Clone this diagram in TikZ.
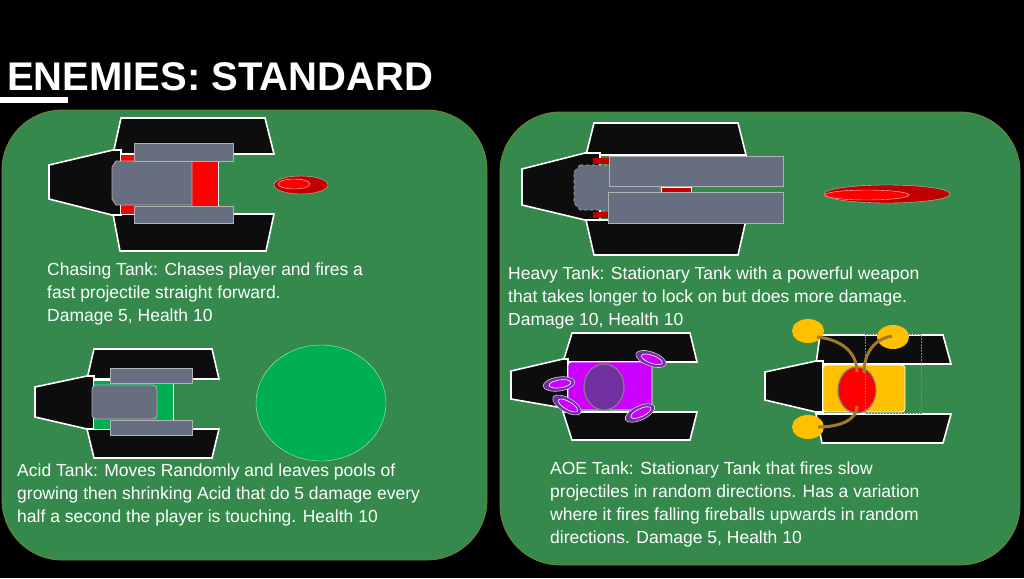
\documentclass[tikz,border=0pt]{standalone}
\usepackage{fontspec}
\setmainfont{Liberation Sans}
\usetikzlibrary{positioning}
\definecolor{panelgreen}{RGB}{53,137,76}
\definecolor{panelrim}{RGB}{120,130,50}
\definecolor{hullgrey}{RGB}{102,110,128}
\definecolor{acidgreen}{RGB}{0,176,80}
\definecolor{darkred}{RGB}{192,0,0}
\definecolor{aoepurple}{RGB}{204,0,255}
\definecolor{deeppurple}{RGB}{112,48,160}
\definecolor{fireyellow}{RGB}{255,192,0}
\definecolor{fusebrown}{RGB}{160,120,50}
\tikzset{
  panel/.style={fill=panelgreen,draw=panelrim,line width=0.8pt,rounded corners=60pt},
  track/.style={fill=black!95,draw=white,line width=1.6pt},
  hull/.style={fill=hullgrey,draw=gray!60,line width=0.8pt},
  desc/.style={anchor=north west,inner sep=0pt,align=left,text=white,
    font=\fontsize{17.5}{23}\selectfont},
  disc/.style={fill=deeppurple,draw=gray!40,line width=0.6pt},
  discin/.style={fill=aoepurple,draw=white,line width=0.6pt},
  fireball/.style={fill=fireyellow},
  fuse/.style={draw=fusebrown,line width=3pt}
}
\begin{document}
\begin{tikzpicture}[x=1pt,y=-1pt]
\fill[black] (0,0) rectangle (1024,578);
\useasboundingbox (0,0) rectangle (1024,578);
% title
\node[anchor=base west,inner sep=0pt,text=white,font=\fontsize{40}{40}\selectfont\bfseries] (title) at (7,90) {ENEMIES: STANDARD};
\fill[white] (0,97) rectangle (68,103);
% panels
\draw[panel] (2,110) rectangle (487,560);
\draw[panel] (500,112) rectangle (1020,565);

% chasing tank
\draw[track] (121,118) -- (265,118) -- (274,154) -- (113,154) -- cycle;
\draw[track] (113,214) -- (274,214) -- (266,251) -- (120,251) -- cycle;
\draw[track] (49,165) -- (113,150) -- (121,150) -- (121,215) -- (112,215) -- (49,199) -- cycle;
\fill[red] (121,154) rectangle (218,214);
\draw[white,line width=0.8pt] (121,154) -- (218,154) -- (218,214) -- (121,214);
\draw[hull] (116,161) -- (192,161) -- (192,205) -- (116,205) -- (112,199) -- (112,167) -- cycle;
\draw[hull] (134,143) rectangle (233,161);
\draw[hull] (134,206) rectangle (233,223);
\draw[fill=darkred,draw=gray!50] (301,185) ellipse [x radius=27,y radius=9];
\draw[fill=red,draw=white!80!red] (294,184) ellipse [x radius=16,y radius=5];
\node[desc] (chasing) at (47,263) {Chasing Tank: Chases player and fires a\\fast projectile straight forward.\\Damage 5, Health 10};

% heavy tank
\draw[track] (594,123) -- (738,123) -- (746,155) -- (586,155) -- cycle;
\draw[track] (586,220) -- (746,220) -- (738,255) -- (594,255) -- cycle;
\draw[track] (522,169) -- (585,153) -- (600,153) -- (600,220) -- (585,220) -- (522,205) -- cycle;
\fill[darkred] (593,158) rectangle (609,164);
\fill[darkred] (593,212) rectangle (609,218);
\draw[hull,dashed,draw=gray!70] (580,165) -- (660,165) -- (660,210) -- (580,210) -- (574,203) -- (574,172) -- cycle;
\draw[fill=darkred,draw=white] (661,187) rectangle (691,192);
\draw[hull] (609,156) rectangle (783,186);
\draw[hull] (608,192) rectangle (783,223);
\draw[fill=darkred,draw=gray!50] (887,194) ellipse [x radius=63,y radius=9];
\draw[fill=red,draw=white!80!red] (867,195) ellipse [x radius=42,y radius=5];
\node[desc] (heavy) at (508,267) {Heavy Tank: Stationary Tank with a powerful weapon\\that takes longer to lock on but does more damage.\\Damage 10, Health 10};

% acid tank
\draw[track] (94,349) -- (212,349) -- (219,379) -- (87,379) -- cycle;
\draw[track] (87,429) -- (219,429) -- (212,458) -- (94,458) -- cycle;
\draw[track] (35,387) -- (87,376) -- (94,376) -- (94,429) -- (87,429) -- (35,417) -- cycle;
\fill[acidgreen] (94,380) rectangle (173,429);
\draw[white,line width=0.8pt] (94,380) -- (173,380) -- (173,429) -- (94,429);
\draw[hull,rounded corners=4pt] (92,385) rectangle (157,419);
\draw[hull] (110,368) rectangle (192,383);
\draw[hull] (110,420) rectangle (192,435);
\draw[fill=acidgreen,draw=white!70!acidgreen] (321,403) ellipse [x radius=65,y radius=58];
\node[desc] (acid) at (17,464) {Acid Tank: Moves Randomly and leaves pools of\\growing then shrinking Acid that do 5 damage every\\half a second the player is touching. Health 10};

% aoe tank
\draw[track] (572,333) -- (690,333) -- (697,362) -- (563,362) -- cycle;
\draw[track] (563,412) -- (697,412) -- (690,440) -- (572,440) -- cycle;
\draw[track] (511,371) -- (563,359) -- (568,359) -- (568,408) -- (563,408) -- (511,399) -- cycle;
\draw[fill=aoepurple,draw=white,line width=0.8pt,rounded corners=3pt] (568,362) rectangle (652,410);
\draw[fill=deeppurple,draw=gray,line width=1.2pt] (604,387) ellipse [x radius=20,y radius=23];
\foreach \cx/\cy/\rot in {651/359/-20, 559/384/8, 567/405/-30, 640/413/25} {
  \draw[disc,rotate around={\rot:(\cx,\cy)}] (\cx,\cy) ellipse [x radius=16,y radius=7];
  \draw[discin,rotate around={\rot:(\cx,\cy)}] (\cx+1,\cy) ellipse [x radius=11,y radius=4];
}

% aoe tank, fireball variation
\draw[track] (820,335) -- (943,335) -- (951,364) -- (816,364) -- cycle;
\draw[track] (816,414) -- (951,414) -- (943,443) -- (822,443) -- cycle;
\draw[track] (765,372) -- (816,361) -- (823,361) -- (823,412) -- (816,412) -- (765,400) -- cycle;
\draw[fill=fireyellow,draw=white,line width=0.8pt,rounded corners=3pt] (823,365) rectangle (905,412);
\draw[fill=red,draw=gray,line width=1.2pt] (857,390) ellipse [x radius=19,y radius=23];
\draw[gray,densely dotted,line width=0.5pt] (865,334) rectangle (921,413);
\fill[fireball] (808,331) ellipse [x radius=16,y radius=12];
\fill[fireball] (893,337) ellipse [x radius=16,y radius=12];
\fill[fireball] (808,427) ellipse [x radius=16,y radius=12];
\draw[fuse] (817,337) .. controls (845,340) and (857,355) .. (857,372);
\draw[fuse] (892,336) .. controls (870,340) and (864,358) .. (864,373);
\draw[fuse] (857,406) .. controls (857,420) and (840,427) .. (818,427);
\node[desc] (aoe) at (550,462) {AOE Tank: Stationary Tank that fires slow\\projectiles in random directions. Has a variation\\where it fires falling fireballs upwards in random\\directions. Damage 5, Health 10};
\end{tikzpicture}
\end{document}
